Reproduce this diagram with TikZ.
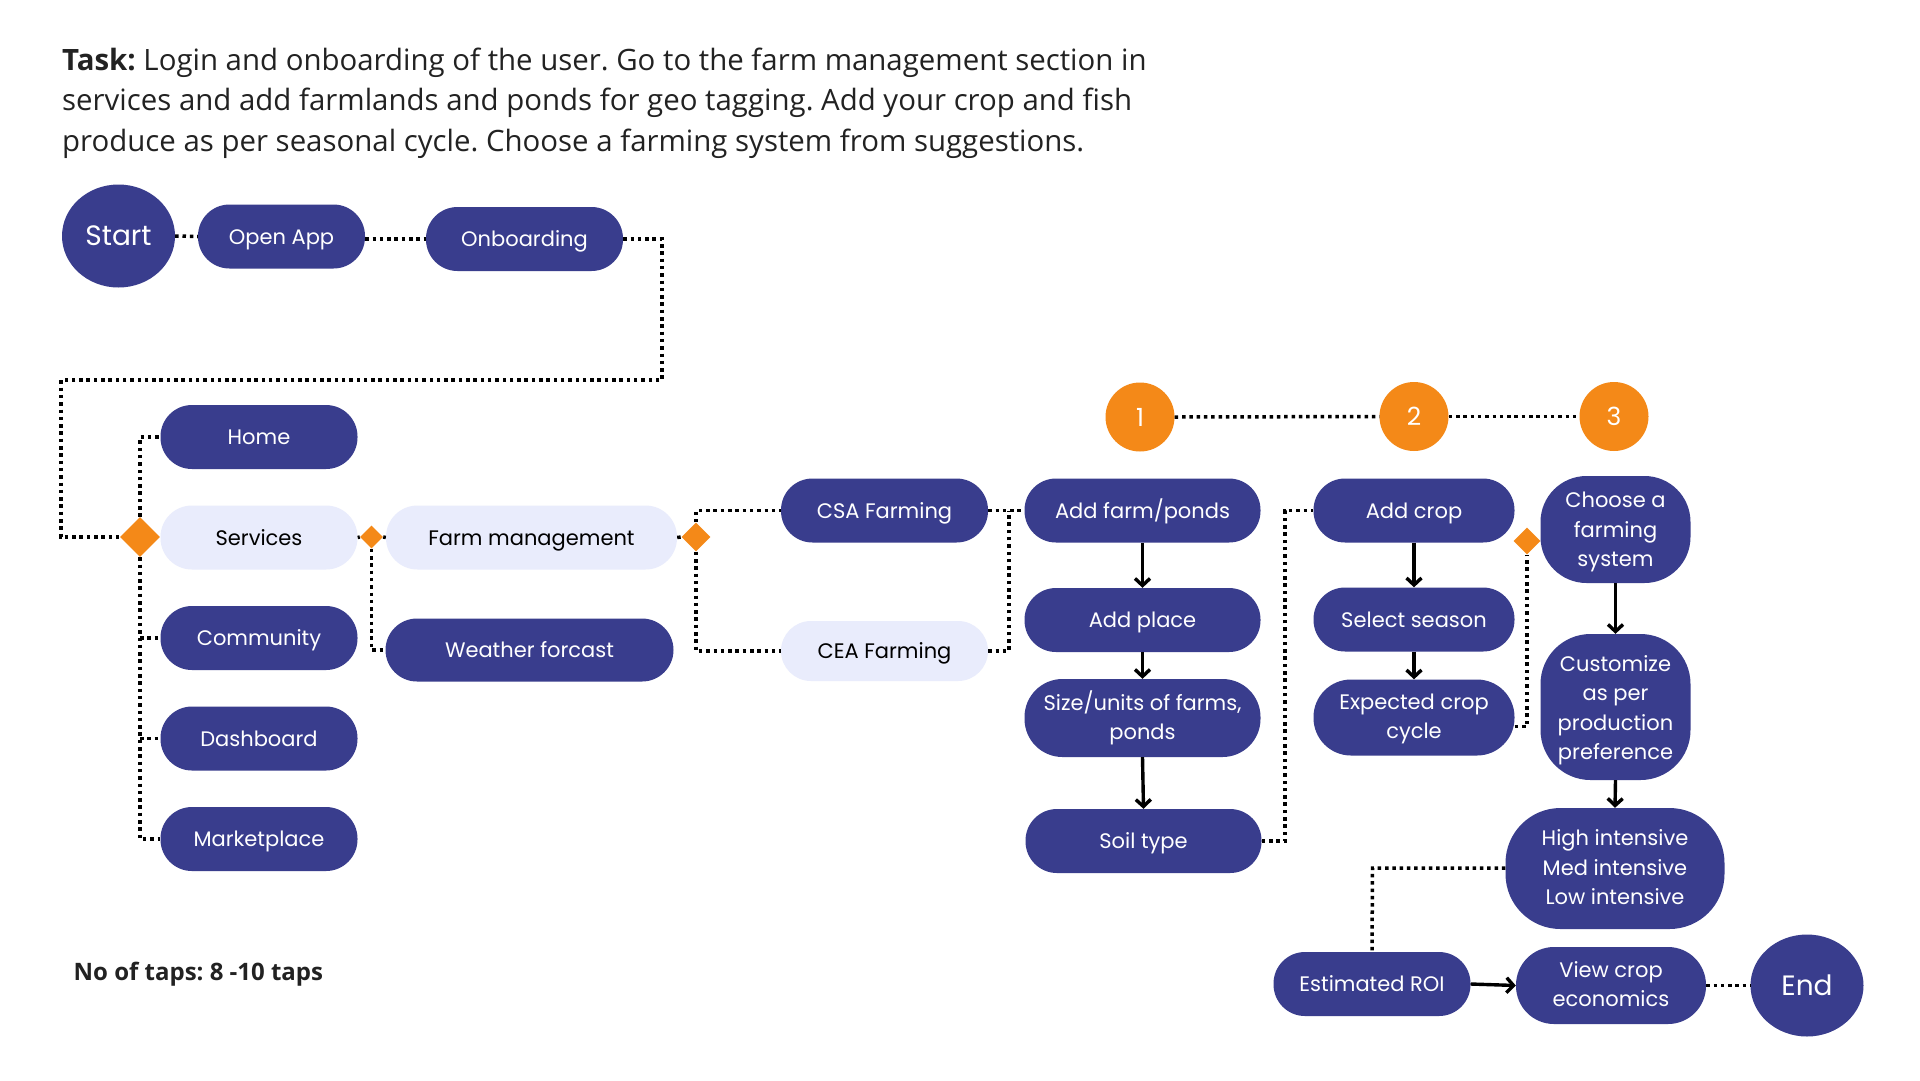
\documentclass[tikz,border=0pt]{standalone}
\usepackage{fontspec}
\setmainfont{Open Sans}
\newfontfamily\pop{Poppins}
\usetikzlibrary{shapes.geometric,arrows.meta,calc}
\frenchspacing
\definecolor{navy}{RGB}{57,61,141}
\definecolor{lite}{RGB}{233,236,252}
\definecolor{orng}{RGB}{244,137,24}
\definecolor{ttl}{RGB}{34,34,34}
\tikzset{
  nbase/.style={inner sep=0pt, align=center, font=\pop\fontsize{21}{29.5}\selectfont,
    execute at begin node={\rule{0pt}{21pt}}, execute at end node={\vphantom{g}}},
  dk/.style={nbase, fill=navy, text=white, rounded corners=#1},
  dk/.default=31.5pt,
  lt/.style={nbase, fill=lite, text=black, rounded corners=#1},
  lt/.default=31.5pt,
  mtxt/.style={inner sep=0pt, align=center, text=white, font=\pop\fontsize{21}{29.5}\selectfont},
  bigell/.style={ellipse, fill=navy, text=white, inner sep=0pt, font=\pop\fontsize{28}{30}\selectfont},
  numc/.style={circle, fill=orng, text=white, inner sep=0pt, minimum size=69pt, font=\pop\fontsize{25}{28}\selectfont},
  odia/.style={diamond, fill=orng, inner sep=0pt, minimum width=#1, minimum height=#1},
  dotline/.style={line width=3.5pt, dash pattern=on 3.5pt off 3.8pt, black},
  arrw/.style={line width=3.4pt, black, -{Straight Barb[length=7pt,width=15pt]}},
  ttlline/.style={anchor=base west, inner sep=0pt, text=ttl, font=\fontsize{29.4}{41}\selectfont},
}
\begin{document}
\begin{tikzpicture}[x=1pt,y=-1pt]
\fill[white] (0,0) rectangle (1920,1080);
\useasboundingbox (0,0) rectangle (1920,1080);

% title
\node[ttlline] (t1) at (62,70) {\textbf{Task:} Login and onboarding of the user. Go to the farm management section in};
\node[ttlline] (t2) at (62,110.5) {services and add farmlands and ponds for geo tagging. Add your crop and fish};
\node[ttlline] (t3) at (62,151) {produce as per seasonal cycle. Choose a farming system from suggestions.};
\node[anchor=base west, inner sep=0pt, text=ttl, font=\bfseries\fontsize{24}{28}\selectfont] (taps) at (73.5,980) {No of taps: 8 -10 taps};

% top row
\node[bigell, minimum width=113pt, minimum height=103pt] (start) at (118.5,236) {Start};
\node[dk, minimum width=167pt, minimum height=64pt] (openapp) at (281.5,236.5) {Open App};
\node[dk, minimum width=197pt, minimum height=64pt] (onboard) at (524.5,239) {Onboarding};

% menu column
\node[dk, minimum width=197pt, minimum height=64pt] (home) at (259,437) {Home};
\node[lt, minimum width=197pt, minimum height=64pt] (services) at (259,537.5) {Services};
\node[dk, minimum width=197pt, minimum height=64pt] (community) at (259,638) {Community};
\node[dk, minimum width=197pt, minimum height=64pt] (dashboard) at (259,738.5) {Dashboard};
\node[dk, minimum width=197pt, minimum height=64pt] (market) at (259,839) {Marketplace};
\node[odia=40pt] (sdia) at (140,537) {};

% services branch
\node[odia=23pt] (sd2) at (371.5,537) {};
\node[lt, minimum width=291pt, minimum height=64pt] (farm) at (531.5,537.5) {Farm management};
\node[dk, minimum width=288pt, minimum height=63pt] (weather) at (529.5,650) {Weather forcast};
\node[odia=29pt] (fd3) at (696,537) {};

\node[dk, minimum width=207pt, minimum height=64pt] (csa) at (884.5,510.5) {CSA Farming};
\node[lt=30pt, minimum width=207pt, minimum height=60pt] (cea) at (884.5,651) {CEA Farming};

% step 1
\node[numc] (n1) at (1140,417) {1};
\node[dk, minimum width=236pt, minimum height=64pt] (addfarm) at (1142.5,510.5) {Add farm/ponds};
\node[dk, minimum width=236pt, minimum height=64pt] (addplace) at (1142.5,620) {Add place};
\node[dk=38pt, minimum width=236pt, minimum height=78pt] (size) at (1142.5,718) {};
\node[mtxt] (sizeT) at (size.center) {Size/units of farms,\\ponds};
\node[dk, minimum width=236pt, minimum height=64pt] (soil) at (1143.5,841) {Soil type};

% step 2
\node[numc] (n2) at (1414,416.5) {2};
\node[dk, minimum width=201pt, minimum height=64pt] (addcrop) at (1414,510.5) {Add crop};
\node[dk, minimum width=201pt, minimum height=64pt] (season) at (1414,619.5) {Select season};
\node[dk=37.5pt, minimum width=201pt, minimum height=76pt] (expected) at (1414,717.5) {};
\node[mtxt] (expectedT) at ([yshift=-1.3pt]expected.center) {Expected crop\\cycle};
\node[odia=27pt] (d4) at (1527,541) {};

% step 3
\node[numc] (n3) at (1614,416.5) {3};
\node[dk=46pt, minimum width=150pt, minimum height=107pt] (choose) at (1615.5,529.5) {};
\node[mtxt] (chooseT) at ([yshift=-2.5pt]choose.center) {Choose a\\farming\\system};
\node[dk=50pt, minimum width=150pt, minimum height=146pt] (custom) at (1615.5,707) {};
\node[mtxt] (customT) at ([yshift=-3pt]custom.center) {Customize\\as per\\production\\preference};
\node[dk=55pt, minimum width=219pt, minimum height=121pt] (high) at (1615,868.5) {};
\node[mtxt] (highT) at ([yshift=1pt]high.center) {High intensive\\Med intensive\\Low intensive};
\node[dk, minimum width=197pt, minimum height=64pt] (roi) at (1372,984) {Estimated ROI};
\node[dk=38pt, minimum width=190pt, minimum height=77pt] (view) at (1611,985.5) {};
\node[mtxt] (viewT) at ([yshift=1.2pt]view.center) {View crop\\economics};
\node[bigell, minimum width=113pt, minimum height=102pt] (end) at (1807,985.5) {End};

% helper coordinates
\coordinate (c1) at (662,380);
\coordinate (c2) at (61,380);
\coordinate (j1) at (1009,510.5);
\coordinate (j2) at (1285,510.5);
\coordinate (j3) at (1372.5,868);

% connectors
\draw[dotline] (start.east) -- (openapp.west);
\draw[dotline] (openapp.east |- onboard.west) -- (onboard.west);
\draw[dotline] (onboard.east) -| (c1) -- (c2) |- (sdia.west);
\draw[dotline] (sdia.north) |- (home.west);
\draw[dotline] (sdia.south) |- (market.west);
\draw[dotline] (sdia.south |- community.west) -- (community.west);
\draw[dotline] (sdia.south |- dashboard.west) -- (dashboard.west);
\draw[dotline] (services.east) -- (sd2.west);
\draw[dotline] (sd2.east) -- (farm.west);
\draw[dotline] (sd2.south) |- (weather.west);
\draw[dotline] (farm.east) -- (fd3.west);
\draw[dotline] (fd3.north) |- (csa.west);
\draw[dotline] (fd3.south) |- (cea.west);
\draw[dotline] (csa.east) -- (addfarm.west);
\draw[dotline] (cea.east) -| (j1);
\draw[dotline] (n1.east) -- (n2.west);
\draw[dotline] (n2.east) -- (n3.west);
\draw[arrw] (addfarm.south) -- (addplace.north);
\draw[arrw] (addplace.south) -- (size.north);
\draw[arrw] (size.south) -- (soil.north);
\draw[dotline] (soil.east) -| (j2) -- (addcrop.west);
\draw[arrw] (addcrop.south) -- (season.north);
\draw[arrw] (season.south) -- (expected.north);
\draw[dotline] ($(expected.east)+(0,9)$) -| (d4.south);
\draw[arrw] (choose.south) -- (custom.north);
\draw[arrw] (custom.south) -- (high.north);
\draw[dotline] (high.west |- j3) -- (j3) -- (roi.north);
\draw[arrw] (roi.east) -- (view.west);
\draw[dotline] (view.east) -- (end.west);
\end{tikzpicture}
\end{document}
